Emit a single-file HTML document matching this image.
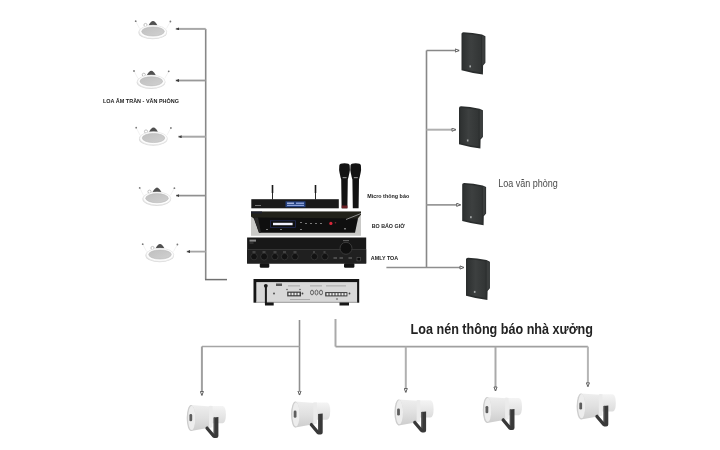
<!DOCTYPE html>
<html><head><meta charset="utf-8">
<style>
html,body{margin:0;padding:0;background:#fff;width:720px;height:450px;overflow:hidden}
svg{display:block;will-change:transform}
text{font-family:"Liberation Sans",sans-serif}
</style></head><body>
<svg width="720" height="450" viewBox="0 0 720 450">
<defs>
  <linearGradient id="grill" x1="0" y1="0" x2="1" y2="1">
    <stop offset="0" stop-color="#c0c0c0"/><stop offset="1" stop-color="#d0d0d0"/>
  </linearGradient>
  <linearGradient id="wallg" x1="0" y1="0" x2="1" y2="0">
    <stop offset="0" stop-color="#2e3131"/><stop offset="0.45" stop-color="#3d4040"/><stop offset="1" stop-color="#323535"/>
  </linearGradient>
  <linearGradient id="hornc" x1="0" y1="0" x2="0" y2="1">
    <stop offset="0" stop-color="#eeeeee"/><stop offset="0.5" stop-color="#e0e0e0"/><stop offset="1" stop-color="#cdcdcd"/>
  </linearGradient>
  <linearGradient id="hornr" x1="0" y1="0" x2="0" y2="1">
    <stop offset="0" stop-color="#f4f4f4"/><stop offset="1" stop-color="#dcdcdc"/>
  </linearGradient>
  
  
  
  <marker id="ah" viewBox="0 0 6 6" refX="6" refY="3" markerWidth="3.3" markerHeight="3" orient="auto" markerUnits="userSpaceOnUse" preserveAspectRatio="none">
    <path d="M0,0 L6,3 L0,6 Z" fill="#3a3a3a"/>
  </marker>
  <marker id="ho" viewBox="0 0 10 8" refX="9.5" refY="4" markerWidth="4.8" markerHeight="4.2" orient="auto" markerUnits="userSpaceOnUse" preserveAspectRatio="none">
    <path d="M1.2,1 L9,4 L1.2,7 Z" fill="#fff" stroke="#555" stroke-width="1.8"/>
  </marker>
  <filter id="soft" x="0" y="0" width="720" height="450" filterUnits="userSpaceOnUse"><feGaussianBlur stdDeviation="0.8"/></filter>
</defs>
<g>

<!-- left tree -->
<path d="M205.7,28.9 V279.6" stroke="#888" stroke-width="1.6" fill="none"/>
<path d="M205,279.6 H227" stroke="#707070" stroke-width="1.5" fill="none"/>
<path d="M205.7,28.9 H175.7" stroke="#a8a8a8" stroke-width="2" fill="none" marker-end="url(#ah)"/>
<path d="M205.7,80.5 H175.7" stroke="#999" stroke-width="1.8" fill="none" marker-end="url(#ah)"/>
<path d="M205.7,136.7 H178.3" stroke="#a8a8a8" stroke-width="2" fill="none" marker-end="url(#ah)"/>
<path d="M205.7,195.6 H176" stroke="#909090" stroke-width="1.7" fill="none" marker-end="url(#ah)"/>
<path d="M205.7,251.6 H186.7" stroke="#a5a5a5" stroke-width="1.8" fill="none" marker-end="url(#ah)"/>
<!-- right tree -->
<path d="M426.5,50.5 V267.5" stroke="#888" stroke-width="1.6" fill="none"/>
<path d="M426.5,50.5 H459.3" stroke="#888" stroke-width="1.7" fill="none" marker-end="url(#ho)"/>
<path d="M426.5,129.7 H456" stroke="#b0b0b0" stroke-width="2" fill="none" marker-end="url(#ho)"/>
<path d="M426.5,204.8 H460.7" stroke="#999" stroke-width="1.8" fill="none" marker-end="url(#ho)"/>
<path d="M386.4,267.5 H464" stroke="#8e8e8e" stroke-width="1.5" fill="none" marker-end="url(#ho)"/>
<!-- bottom tree -->
<path d="M299.5,320 V395.1" stroke="#909090" stroke-width="1.6" fill="none" marker-end="url(#ho)"/>
<path d="M299.5,346.5 H201.9" stroke="#a5a5a5" stroke-width="1.7" fill="none"/>
<path d="M201.9,346.5 V395.5" stroke="#a0a0a0" stroke-width="2" fill="none" marker-end="url(#ho)"/>
<path d="M335.5,319 V346.6" stroke="#aaa" stroke-width="2" fill="none"/>
<path d="M335.5,346.6 H587.9" stroke="#a0a0a0" stroke-width="1.7" fill="none"/>
<path d="M405.8,346.6 V392.5" stroke="#b0b0b0" stroke-width="2" fill="none" marker-end="url(#ho)"/>
<path d="M495.5,346.6 V391" stroke="#aaa" stroke-width="2" fill="none" marker-end="url(#ho)"/>
<path d="M587.9,346.6 V386.8" stroke="#b5b5b5" stroke-width="2" fill="none" marker-end="url(#ho)"/>

<!-- ceiling speakers -->
<g transform="translate(153,31.5)">
    <line x1="-17.3" y1="-10.3" x2="-13.5" y2="-3" stroke="#f0f0f0" stroke-width="0.9"/>
    <line x1="17.4" y1="-10" x2="13.5" y2="-3" stroke="#f0f0f0" stroke-width="0.9"/>
    <circle cx="-17.3" cy="-10.3" r="0.9" fill="#7a7a7a"/>
    <circle cx="17.4" cy="-10" r="0.9" fill="#7a7a7a"/>
    <path d="M-4.4,-6.2 Q-3.2,-8.8 -1.2,-10.2 Q0,-11 1.2,-10.2 Q3.2,-8.8 4.4,-6.2 Z" fill="#505050"/>
    <circle cx="-7.5" cy="-6.5" r="1.6" fill="none" stroke="#a8a8a8" stroke-width="0.7"/>
    <ellipse cx="-0.3" cy="0.9" rx="14.3" ry="6.9" fill="#dcdcdc"/>
    <ellipse cx="0" cy="0.3" rx="13.8" ry="6.5" fill="#fdfdfd" stroke="#e2e2e2" stroke-width="0.6"/>
    <ellipse cx="0" cy="0" rx="11.3" ry="4.6" fill="url(#grill)" stroke="#b0b0b0" stroke-width="0.5"/>
  </g>
<g transform="translate(151.3,81.3)">
    <line x1="-17.3" y1="-10.3" x2="-13.5" y2="-3" stroke="#f0f0f0" stroke-width="0.9"/>
    <line x1="17.4" y1="-10" x2="13.5" y2="-3" stroke="#f0f0f0" stroke-width="0.9"/>
    <circle cx="-17.3" cy="-10.3" r="0.9" fill="#7a7a7a"/>
    <circle cx="17.4" cy="-10" r="0.9" fill="#7a7a7a"/>
    <path d="M-4.4,-6.2 Q-3.2,-8.8 -1.2,-10.2 Q0,-11 1.2,-10.2 Q3.2,-8.8 4.4,-6.2 Z" fill="#505050"/>
    <circle cx="-7.5" cy="-6.5" r="1.6" fill="none" stroke="#a8a8a8" stroke-width="0.7"/>
    <ellipse cx="-0.3" cy="0.9" rx="14.3" ry="6.9" fill="#dcdcdc"/>
    <ellipse cx="0" cy="0.3" rx="13.8" ry="6.5" fill="#fdfdfd" stroke="#e2e2e2" stroke-width="0.6"/>
    <ellipse cx="0" cy="0" rx="11.3" ry="4.6" fill="url(#grill)" stroke="#b0b0b0" stroke-width="0.5"/>
  </g>
<g transform="translate(153.5,138)">
    <line x1="-17.3" y1="-10.3" x2="-13.5" y2="-3" stroke="#f0f0f0" stroke-width="0.9"/>
    <line x1="17.4" y1="-10" x2="13.5" y2="-3" stroke="#f0f0f0" stroke-width="0.9"/>
    <circle cx="-17.3" cy="-10.3" r="0.9" fill="#7a7a7a"/>
    <circle cx="17.4" cy="-10" r="0.9" fill="#7a7a7a"/>
    <path d="M-4.4,-6.2 Q-3.2,-8.8 -1.2,-10.2 Q0,-11 1.2,-10.2 Q3.2,-8.8 4.4,-6.2 Z" fill="#505050"/>
    <circle cx="-7.5" cy="-6.5" r="1.6" fill="none" stroke="#a8a8a8" stroke-width="0.7"/>
    <ellipse cx="-0.3" cy="0.9" rx="14.3" ry="6.9" fill="#dcdcdc"/>
    <ellipse cx="0" cy="0.3" rx="13.8" ry="6.5" fill="#fdfdfd" stroke="#e2e2e2" stroke-width="0.6"/>
    <ellipse cx="0" cy="0" rx="11.3" ry="4.6" fill="url(#grill)" stroke="#b0b0b0" stroke-width="0.5"/>
  </g>
<g transform="translate(157,198.2)">
    <line x1="-17.3" y1="-10.3" x2="-13.5" y2="-3" stroke="#f0f0f0" stroke-width="0.9"/>
    <line x1="17.4" y1="-10" x2="13.5" y2="-3" stroke="#f0f0f0" stroke-width="0.9"/>
    <circle cx="-17.3" cy="-10.3" r="0.9" fill="#7a7a7a"/>
    <circle cx="17.4" cy="-10" r="0.9" fill="#7a7a7a"/>
    <path d="M-4.4,-6.2 Q-3.2,-8.8 -1.2,-10.2 Q0,-11 1.2,-10.2 Q3.2,-8.8 4.4,-6.2 Z" fill="#505050"/>
    <circle cx="-7.5" cy="-6.5" r="1.6" fill="none" stroke="#a8a8a8" stroke-width="0.7"/>
    <ellipse cx="-0.3" cy="0.9" rx="14.3" ry="6.9" fill="#dcdcdc"/>
    <ellipse cx="0" cy="0.3" rx="13.8" ry="6.5" fill="#fdfdfd" stroke="#e2e2e2" stroke-width="0.6"/>
    <ellipse cx="0" cy="0" rx="11.3" ry="4.6" fill="url(#grill)" stroke="#b0b0b0" stroke-width="0.5"/>
  </g>
<g transform="translate(160,254.5)">
    <line x1="-17.3" y1="-10.3" x2="-13.5" y2="-3" stroke="#f0f0f0" stroke-width="0.9"/>
    <line x1="17.4" y1="-10" x2="13.5" y2="-3" stroke="#f0f0f0" stroke-width="0.9"/>
    <circle cx="-17.3" cy="-10.3" r="0.9" fill="#7a7a7a"/>
    <circle cx="17.4" cy="-10" r="0.9" fill="#7a7a7a"/>
    <path d="M-4.4,-6.2 Q-3.2,-8.8 -1.2,-10.2 Q0,-11 1.2,-10.2 Q3.2,-8.8 4.4,-6.2 Z" fill="#505050"/>
    <circle cx="-7.5" cy="-6.5" r="1.6" fill="none" stroke="#a8a8a8" stroke-width="0.7"/>
    <ellipse cx="-0.3" cy="0.9" rx="14.3" ry="6.9" fill="#dcdcdc"/>
    <ellipse cx="0" cy="0.3" rx="13.8" ry="6.5" fill="#fdfdfd" stroke="#e2e2e2" stroke-width="0.6"/>
    <ellipse cx="0" cy="0" rx="11.3" ry="4.6" fill="url(#grill)" stroke="#b0b0b0" stroke-width="0.5"/>
  </g>

<!-- wall speakers -->
<g transform="translate(461.5,32.2)">
    <path d="M0,1.6 Q0,0 2,0 Q11,0.3 20.5,2.4 L23.9,4 L23.9,30.6 L21.6,33.2 L21.4,42.3 Q10,40.8 0,38 Z" fill="#2a2d2d"/>
    <path d="M20.6,3.2 L23.2,4.6 L23.2,30.2 L20.6,33 Z" fill="#3b3e3e"/>
    <path d="M1.3,1.8 Q10,1.9 19.6,3.9 L19.6,40.3 Q9,38.8 1.3,36.6 Z" fill="url(#wallg)"/>
    <rect x="7.9" y="33.2" width="1.6" height="2" fill="#a9acac"/>
  </g>
<g transform="translate(459,106.3)">
    <path d="M0,1.6 Q0,0 2,0 Q11,0.3 20.5,2.4 L23.9,4 L23.9,30.6 L21.6,33.2 L21.4,42.3 Q10,40.8 0,38 Z" fill="#2a2d2d"/>
    <path d="M20.6,3.2 L23.2,4.6 L23.2,30.2 L20.6,33 Z" fill="#3b3e3e"/>
    <path d="M1.3,1.8 Q10,1.9 19.6,3.9 L19.6,40.3 Q9,38.8 1.3,36.6 Z" fill="url(#wallg)"/>
    <rect x="7.9" y="33.2" width="1.6" height="2" fill="#a9acac"/>
  </g>
<g transform="translate(462.2,183)">
    <path d="M0,1.6 Q0,0 2,0 Q11,0.3 20.5,2.4 L23.9,4 L23.9,30.6 L21.6,33.2 L21.4,42.3 Q10,40.8 0,38 Z" fill="#2a2d2d"/>
    <path d="M20.6,3.2 L23.2,4.6 L23.2,30.2 L20.6,33 Z" fill="#3b3e3e"/>
    <path d="M1.3,1.8 Q10,1.9 19.6,3.9 L19.6,40.3 Q9,38.8 1.3,36.6 Z" fill="url(#wallg)"/>
    <rect x="7.9" y="33.2" width="1.6" height="2" fill="#a9acac"/>
  </g>
<g transform="translate(466,257.7)">
    <path d="M0,1.6 Q0,0 2,0 Q11,0.3 20.5,2.4 L23.9,4 L23.9,30.6 L21.6,33.2 L21.4,42.3 Q10,40.8 0,38 Z" fill="#2a2d2d"/>
    <path d="M20.6,3.2 L23.2,4.6 L23.2,30.2 L20.6,33 Z" fill="#3b3e3e"/>
    <path d="M1.3,1.8 Q10,1.9 19.6,3.9 L19.6,40.3 Q9,38.8 1.3,36.6 Z" fill="url(#wallg)"/>
    <rect x="7.9" y="33.2" width="1.6" height="2" fill="#a9acac"/>
  </g>

<!-- horns -->
<g transform="translate(186.7,405.1)">
    <path d="M4.3,0 L23.8,1.3 L23.8,22.5 L4.3,26 Z" fill="url(#hornc)"/>
    <path d="M25,0.9 L36,0.9 Q39.2,1.5 39.2,9.5 Q39.2,17.6 36,18.2 L25,18.2 Z" fill="url(#hornr)"/>
    <path d="M22.3,0.8 Q24,0.4 25.8,0.9 Q26.6,11.5 25.8,22.2 Q24,22.7 22.3,22.5 Z" fill="#ebebeb"/>
    <ellipse cx="4.3" cy="13" rx="4.3" ry="13" fill="#cdcdcd"/>
    <ellipse cx="5" cy="12.8" rx="3.6" ry="12.1" fill="#ededed"/>
    <rect x="2.7" y="9" width="2.8" height="7.2" rx="1.3" fill="#5e5e5e"/>
    <path d="M27,12.5 L31.7,12 L31.7,31 Q31.7,33 29.6,33 L27.6,33 Q26.6,33 25.9,32.2 L18.7,23.6 Q18.4,21.4 20.8,21.1 L27,28.3 Z" fill="#393939"/>
    <path d="M27,12.5 L28.3,12.4 L28.3,29.6 L27,28.3 Z" fill="#4e4e4e"/>
  </g>
<g transform="translate(291,401.6)">
    <path d="M4.3,0 L23.8,1.3 L23.8,22.5 L4.3,26 Z" fill="url(#hornc)"/>
    <path d="M25,0.9 L36,0.9 Q39.2,1.5 39.2,9.5 Q39.2,17.6 36,18.2 L25,18.2 Z" fill="url(#hornr)"/>
    <path d="M22.3,0.8 Q24,0.4 25.8,0.9 Q26.6,11.5 25.8,22.2 Q24,22.7 22.3,22.5 Z" fill="#ebebeb"/>
    <ellipse cx="4.3" cy="13" rx="4.3" ry="13" fill="#cdcdcd"/>
    <ellipse cx="5" cy="12.8" rx="3.6" ry="12.1" fill="#ededed"/>
    <rect x="2.7" y="9" width="2.8" height="7.2" rx="1.3" fill="#5e5e5e"/>
    <path d="M27,12.5 L31.7,12 L31.7,31 Q31.7,33 29.6,33 L27.6,33 Q26.6,33 25.9,32.2 L18.7,23.6 Q18.4,21.4 20.8,21.1 L27,28.3 Z" fill="#393939"/>
    <path d="M27,12.5 L28.3,12.4 L28.3,29.6 L27,28.3 Z" fill="#4e4e4e"/>
  </g>
<g transform="translate(394.4,399.4)">
    <path d="M4.3,0 L23.8,1.3 L23.8,22.5 L4.3,26 Z" fill="url(#hornc)"/>
    <path d="M25,0.9 L36,0.9 Q39.2,1.5 39.2,9.5 Q39.2,17.6 36,18.2 L25,18.2 Z" fill="url(#hornr)"/>
    <path d="M22.3,0.8 Q24,0.4 25.8,0.9 Q26.6,11.5 25.8,22.2 Q24,22.7 22.3,22.5 Z" fill="#ebebeb"/>
    <ellipse cx="4.3" cy="13" rx="4.3" ry="13" fill="#cdcdcd"/>
    <ellipse cx="5" cy="12.8" rx="3.6" ry="12.1" fill="#ededed"/>
    <rect x="2.7" y="9" width="2.8" height="7.2" rx="1.3" fill="#5e5e5e"/>
    <path d="M27,12.5 L31.7,12 L31.7,31 Q31.7,33 29.6,33 L27.6,33 Q26.6,33 25.9,32.2 L18.7,23.6 Q18.4,21.4 20.8,21.1 L27,28.3 Z" fill="#393939"/>
    <path d="M27,12.5 L28.3,12.4 L28.3,29.6 L27,28.3 Z" fill="#4e4e4e"/>
  </g>
<g transform="translate(482.8,397)">
    <path d="M4.3,0 L23.8,1.3 L23.8,22.5 L4.3,26 Z" fill="url(#hornc)"/>
    <path d="M25,0.9 L36,0.9 Q39.2,1.5 39.2,9.5 Q39.2,17.6 36,18.2 L25,18.2 Z" fill="url(#hornr)"/>
    <path d="M22.3,0.8 Q24,0.4 25.8,0.9 Q26.6,11.5 25.8,22.2 Q24,22.7 22.3,22.5 Z" fill="#ebebeb"/>
    <ellipse cx="4.3" cy="13" rx="4.3" ry="13" fill="#cdcdcd"/>
    <ellipse cx="5" cy="12.8" rx="3.6" ry="12.1" fill="#ededed"/>
    <rect x="2.7" y="9" width="2.8" height="7.2" rx="1.3" fill="#5e5e5e"/>
    <path d="M27,12.5 L31.7,12 L31.7,31 Q31.7,33 29.6,33 L27.6,33 Q26.6,33 25.9,32.2 L18.7,23.6 Q18.4,21.4 20.8,21.1 L27,28.3 Z" fill="#393939"/>
    <path d="M27,12.5 L28.3,12.4 L28.3,29.6 L27,28.3 Z" fill="#4e4e4e"/>
  </g>
<g transform="translate(576.6,393.4)">
    <path d="M4.3,0 L23.8,1.3 L23.8,22.5 L4.3,26 Z" fill="url(#hornc)"/>
    <path d="M25,0.9 L36,0.9 Q39.2,1.5 39.2,9.5 Q39.2,17.6 36,18.2 L25,18.2 Z" fill="url(#hornr)"/>
    <path d="M22.3,0.8 Q24,0.4 25.8,0.9 Q26.6,11.5 25.8,22.2 Q24,22.7 22.3,22.5 Z" fill="#ebebeb"/>
    <ellipse cx="4.3" cy="13" rx="4.3" ry="13" fill="#cdcdcd"/>
    <ellipse cx="5" cy="12.8" rx="3.6" ry="12.1" fill="#ededed"/>
    <rect x="2.7" y="9" width="2.8" height="7.2" rx="1.3" fill="#5e5e5e"/>
    <path d="M27,12.5 L31.7,12 L31.7,31 Q31.7,33 29.6,33 L27.6,33 Q26.6,33 25.9,32.2 L18.7,23.6 Q18.4,21.4 20.8,21.1 L27,28.3 Z" fill="#393939"/>
    <path d="M27,12.5 L28.3,12.4 L28.3,29.6 L27,28.3 Z" fill="#4e4e4e"/>
  </g>

<!-- equipment: mic receiver -->
<g>
  <line x1="272.5" y1="185" x2="272.5" y2="199.5" stroke="#2a2a2a" stroke-width="1"/><line x1="272.5" y1="185" x2="272.5" y2="193" stroke="#1a1a1a" stroke-width="1.6"/>
  <line x1="315.5" y1="185" x2="315.5" y2="199.5" stroke="#2a2a2a" stroke-width="1"/><line x1="315.5" y1="185" x2="315.5" y2="193" stroke="#1a1a1a" stroke-width="1.6"/>
  <rect x="251.3" y="199.2" width="87.5" height="9.1" fill="#1a1a1a"/>
  <rect x="285.5" y="201.3" width="20" height="5.9" fill="#24407f"/>
  <rect x="287" y="202.6" width="7" height="1.2" fill="#c0ccf0"/><rect x="296" y="202.6" width="8" height="1.2" fill="#a0b4e8"/>
  <rect x="287" y="204.8" width="17" height="1.2" fill="#8ea4dc"/>
  <rect x="255" y="205" width="6" height="1" fill="#777"/>
  <!-- mics -->
  <path d="M339.3,165.5 Q339.5,163.3 344.5,163.3 Q349.5,163.3 349.7,165.5 L349.9,170 L349.5,172.5 Q348.6,177 347.8,179.5 L347.4,208.3 L341.6,208.3 L341.2,179.5 Q340.4,177 339.5,172.5 L339.1,170 Z" fill="#131313"/>
  <path d="M350.5,165.5 Q350.7,163.3 355.7,163.3 Q360.7,163.3 360.9,165.5 L361.1,170 L360.7,172.5 Q359.8,177 359.0,179.5 L358.6,208.3 L352.8,208.3 L352.4,179.5 Q351.6,177 350.7,172.5 L350.3,170 Z" fill="#131313"/>
  <rect x="342.6" y="177" width="4" height="1.2" fill="#888"/>
  <rect x="353.8" y="177" width="4" height="1.2" fill="#888"/>
  <rect x="341.8" y="205.5" width="5.6" height="2.8" fill="#6b1f24"/>
</g>
<!-- bo bao gio (photo) -->
<g>
  <rect x="251" y="211.5" width="110" height="24.3" fill="#c9c9c7"/>
  <path d="M251,211.5 H361 V214.5 L357.5,219 H254.5 L251,216.5 Z" fill="#22221a"/>
  <path d="M251,211.5 H262 V213.5 H251 Z" fill="#1c1e2a"/>
  <path d="M253.5,217.5 L358,218.5 L355,232.8 L259,232.8 Z" fill="#0f0f0f"/>
  <path d="M254,217.5 L258,217.5 L261,232.8 L259,232.8 Z" fill="#2a2a2a"/>
  <line x1="346" y1="219.5" x2="361" y2="213.5" stroke="#8c8c8c" stroke-width="1"/>
  <rect x="270.5" y="220.8" width="25" height="6.5" fill="none" stroke="#263063" stroke-width="0.7"/>
  <rect x="273" y="222.8" width="19.6" height="2.4" fill="#f2f2ff"/>
  <circle cx="330.9" cy="223.4" r="1.6" fill="#d9283a"/>
  <circle cx="335.5" cy="222.8" r="0.8" fill="#7a2a35"/>
  <g fill="#777">
    <rect x="300" y="222" width="2" height="1"/><rect x="305" y="223" width="2" height="1"/><rect x="310" y="223" width="2" height="1"/><rect x="315" y="223" width="2" height="1"/><rect x="320" y="223" width="2" height="1"/>
    <rect x="266" y="229" width="2" height="1"/><rect x="280" y="229" width="2" height="1"/><rect x="300" y="229" width="2" height="1"/><rect x="344" y="228" width="2" height="1.5"/>
  </g>
</g>
<!-- amp -->
<g>
  <rect x="247.1" y="237.5" width="119.1" height="26" fill="#181818"/>
  <rect x="247.1" y="249.3" width="119.1" height="14.2" fill="#202020"/>
  <line x1="247.5" y1="249.5" x2="366" y2="249.5" stroke="#444" stroke-width="0.6"/>
  <rect x="249.5" y="239.6" width="6.5" height="2" fill="#8a8a8a"/><rect x="249.5" y="242.6" width="4" height="0.8" fill="#555"/>
  <circle cx="346" cy="248.3" r="6" fill="#101010" stroke="#3a3a3a" stroke-width="1"/>
  <g fill="#121212" stroke="#363636" stroke-width="0.8">
    <circle cx="254" cy="256.6" r="3.3"/><circle cx="264.1" cy="256.6" r="3.5"/><circle cx="274.9" cy="256.6" r="3.2"/>
    <circle cx="284.6" cy="256.6" r="3.3"/><circle cx="295" cy="256.6" r="3.3"/>
    <circle cx="314.4" cy="256.6" r="3.3"/><circle cx="324.9" cy="256.6" r="3.3"/>
  </g>
  <g fill="#777">
    <rect x="252.5" y="251.6" width="3" height="0.8"/><rect x="262.5" y="251.6" width="3" height="0.8"/><rect x="273.5" y="251.6" width="3" height="0.8"/>
    <rect x="283" y="251.6" width="3" height="0.8"/><rect x="293.5" y="251.6" width="3" height="0.8"/><rect x="313" y="251.6" width="2" height="0.8"/><rect x="323.5" y="251.6" width="2" height="0.8"/>
    <rect x="333.5" y="257.5" width="3.5" height="1"/><rect x="339.5" y="257.5" width="3.5" height="1"/><rect x="348.5" y="257.5" width="3.5" height="1"/>
    <rect x="343" y="240.3" width="6" height="0.8"/>
  </g>
  <rect x="357" y="257.5" width="3.6" height="3.4" fill="#0b0b0b" stroke="#666" stroke-width="0.5"/>
  <rect x="259.8" y="263.3" width="9.5" height="4.5" rx="1.2" fill="#141414"/>
  <rect x="344" y="263.3" width="10.4" height="4.5" rx="1.2" fill="#141414"/>
</g>
<!-- back panel -->
<g>
  <rect x="253.5" y="279" width="105.7" height="23.7" fill="#151515"/>
  <rect x="256.3" y="282.1" width="100.8" height="20.4" fill="#d8d8d8"/>
  <rect x="256.3" y="301.5" width="100.8" height="1" fill="#bdbdbd"/>
  <rect x="264.9" y="285" width="2" height="19.5" fill="#1a1a1a"/>
  <circle cx="265.8" cy="285.8" r="1.9" fill="#1a1a1a"/>
  <rect x="276" y="283.5" width="6" height="2.5" fill="#555"/>
  <rect x="287.2" y="291.6" width="13.8" height="4.8" fill="#3e3e3e"/>
  <g fill="#e8e8e8"><rect x="288.5" y="292.8" width="2" height="2.4"/><rect x="291.5" y="292.8" width="2" height="2.4"/><rect x="294.5" y="292.8" width="2" height="2.4"/><rect x="297.5" y="292.8" width="2" height="2.4"/></g>
  <g fill="none" stroke="#555" stroke-width="0.9"><ellipse cx="312" cy="292.5" rx="1.5" ry="2.4"/><ellipse cx="316.5" cy="292.5" rx="1.5" ry="2.4"/><ellipse cx="321" cy="292.5" rx="1.5" ry="2.4"/></g>
  <rect x="325.2" y="292.1" width="22.2" height="4.3" fill="#3a3a3a"/>
  <g fill="#eee"><rect x="326.5" y="293.1" width="2" height="2.3"/><rect x="329.5" y="293.1" width="2" height="2.3"/><rect x="332.5" y="293.1" width="2" height="2.3"/><rect x="335.5" y="293.1" width="2" height="2.3"/><rect x="338.5" y="293.1" width="2" height="2.3"/><rect x="341.5" y="293.1" width="2" height="2.3"/><rect x="344.5" y="293.1" width="2" height="2.3"/></g>
  <g fill="#444"><circle cx="274" cy="293.5" r="0.9"/><circle cx="302.5" cy="293.5" r="0.9"/><circle cx="349.5" cy="293.5" r="0.9"/><circle cx="287" cy="289.5" r="0.7"/><circle cx="300" cy="289.5" r="0.7"/><circle cx="337" cy="299" r="0.8"/></g>
  <g fill="#999"><rect x="288" y="285.5" width="12" height="0.8"/><rect x="310" y="285.5" width="12" height="0.8"/><rect x="326" y="285.5" width="20" height="0.8"/><rect x="290" y="299" width="20" height="0.7"/></g>
  <rect x="265" y="302.5" width="8.7" height="3" fill="#161616"/>
  <rect x="339.5" y="302.5" width="9.5" height="3" fill="#161616"/>
</g>

<!-- labels -->
<text x="103" y="102.5" font-size="6" font-weight="bold" fill="#222" textLength="76" lengthAdjust="spacingAndGlyphs">LOA ÂM TRẦN - VĂN PHÒNG</text>
<text x="367.2" y="198.1" font-size="5.8" font-weight="bold" fill="#222" textLength="42" lengthAdjust="spacingAndGlyphs">Micro thông báo</text>
<text x="371.7" y="228.2" font-size="6" font-weight="bold" fill="#222" textLength="33" lengthAdjust="spacingAndGlyphs">BO BÁO GIỜ</text>
<text x="370.8" y="260" font-size="6.2" font-weight="bold" fill="#222" textLength="27.4" lengthAdjust="spacingAndGlyphs">AMLY TOA</text>
<text x="498.2" y="186.7" font-size="10.3" fill="#4a4a4a" textLength="59.6" lengthAdjust="spacingAndGlyphs">Loa văn phòng</text>
<text x="410.6" y="333.6" font-size="14" font-weight="bold" fill="#222" textLength="182.4" lengthAdjust="spacingAndGlyphs">Loa nén thông báo nhà xưởng</text>
</g>
</svg>
</body></html>
